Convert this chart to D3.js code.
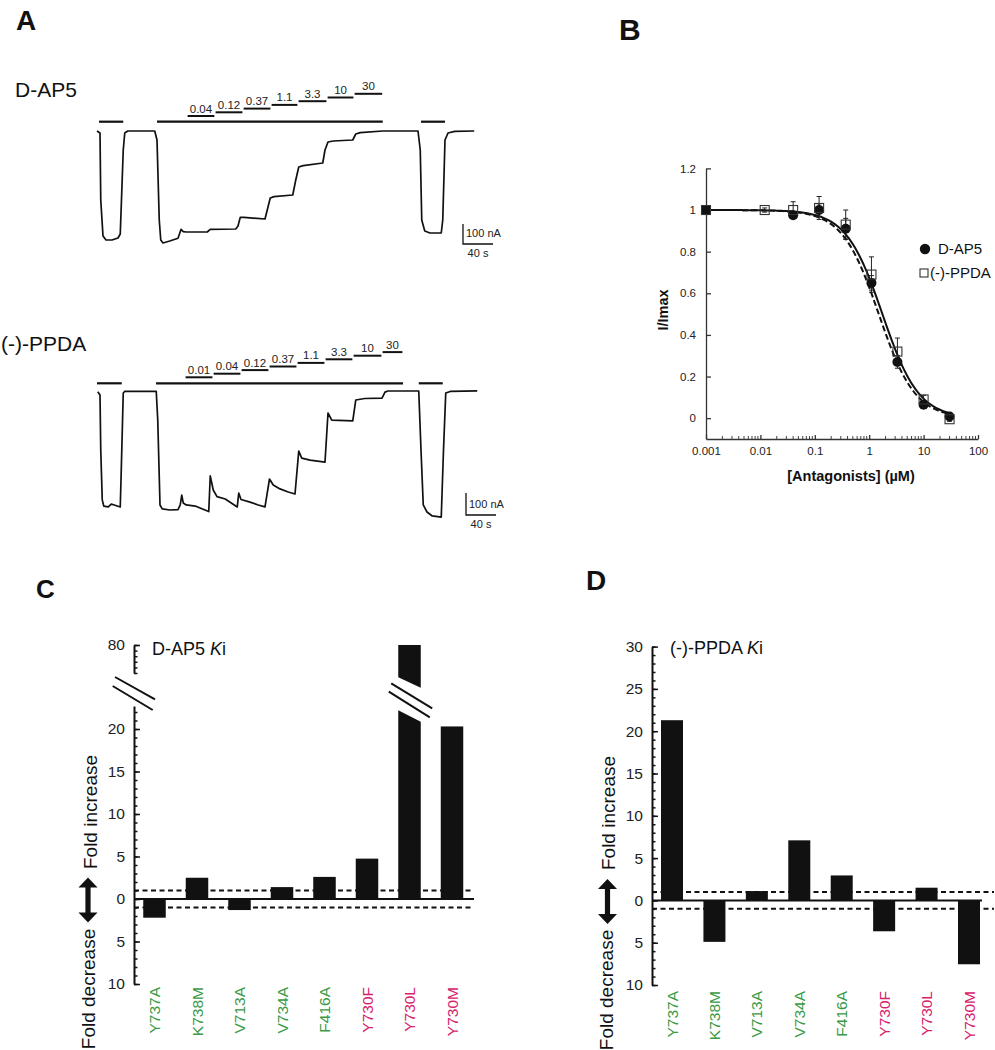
<!DOCTYPE html>
<html><head><meta charset="utf-8">
<script src="https://cdn.jsdelivr.net/npm/d3@7"></script>
<style>body{margin:0;background:#fff}svg{display:block}</style>
</head><body>
<script>
// ---------------- DATA ----------------
// Panel A: current traces (time in s, current in nA)
const traceTimeAP5 = [0,4,5,8,12,20,28,31,35,37,41,77,80,83,85,88,97,108,112,115,119,147,151,185,188,191,196,224,227,231,236,261,265,269,275,301,304,308,315,341,345,351,381,428,431,433,437,444,459,461,464,468,477,503];
const traceCurAP5  = [0,-10,-345,-525,-545,-545,-535,-515,-95,-10,0,0,-45,-445,-545,-560,-550,-536,-492,-503,-505,-505,-492,-490,-475,-432,-432,-440,-395,-335,-328,-320,-245,-180,-173,-160,-95,-55,-50,-45,-15,-8,0,0,-95,-445,-500,-510,-510,-445,-45,-10,-2,0];
const traceTimePPDA = [1,4,5,7,9,15,19,23,31,32,35,37,79,81,84,87,97,108,111,113,115,119,131,144,149,151,155,160,171,179,187,189,192,204,215,224,230,235,244,255,264,269,273,284,304,308,313,341,345,357,380,384,388,429,432,435,440,447,459,462,465,471,507];
const traceCurPPDA  = [-3,-18,-268,-495,-523,-527,-514,-518,-527,-405,-9,-2,-2,-132,-518,-536,-541,-539,-518,-473,-509,-518,-523,-541,-548,-386,-450,-480,-491,-509,-527,-464,-493,-505,-518,-527,-400,-427,-445,-459,-468,-273,-305,-314,-323,-100,-132,-136,-41,-34,-32,-5,0,0,-268,-518,-550,-568,-573,-268,-9,-2,1];
// agonist application periods, s
const agonistAP5  = [[2.7,35],[80,381],[432,464]];
const agonistPPDA = [[0,33],[78.7,408],[429,461]];
// antagonist concentration steps (µM) and start times (s)
const concLabelsAP5  = ["0.04","0.12","0.37","1.1","3.3","10","30"];
const concStartAP5   = [120,157.3,194.7,232,268,306.7,342.7];
const concEndAP5     = 381;
const concLabelsPPDA = ["0.01","0.04","0.12","0.37","1.1","3.3","10","30"];
const concStartPPDA  = [117.3,154.7,192,229.3,266.7,304,341.3,380];
const concEndPPDA    = 408;

// Panel B: concentration-response
const concB_AP5  = [0.001,0.04,0.12,0.37,1.1,3.3,10,30];
const respB_AP5  = [1.0,0.975,1.0,0.91,0.65,0.27,0.065,0.008];
const errB_AP5   = [0,0.015,0.03,0.05,0.035,0.03,0.01,0.005];
const concB_PPDA = [0.001,0.012,0.04,0.12,0.37,1.1,3.3,10,30];
const respB_PPDA = [1.0,1.0,1.0,1.01,0.93,0.69,0.32,0.09,-0.005];
const errB_PPDA  = [0,0.01,0.04,0.055,0.07,0.085,0.065,0.02,0.01];
// Hill fit parameters
const fitAP5  = {ic50:1.75, n:1.3};
const fitPPDA = {ic50:1.5,  n:1.3};
const xTicksB = [0.001,0.01,0.1,1,10,100];
const xTickLabelsB = ["0.001","0.01","0.1","1","10","100"];
const yTicksB = [0,0.2,0.4,0.6,0.8,1,1.2];

// Panels C, D: fold change of Ki (negative = fold decrease)
const mutants   = ["Y737A","K738M","V713A","V734A","F416A","Y730F","Y730L","Y730M"];
const mutantSet = ["g","g","g","g","g","m","m","m"];
const foldAP5   = [-2.2, 2.5, -1.3, 1.4, 2.6, 4.75, 80, 20.3];
const foldPPDA  = [21.3, -4.9, 1.1, 7.1, 2.95, -3.65, 1.5, -7.55];

// ---------------- DRAW ----------------
const FONT = "'Liberation Sans', Arial, Helvetica, sans-serif";
const INK = "#111";
const GREEN = "#3a9a46", MAGENTA = "#d6226c";
const W = 995, H = 1050;
const svg = d3.select("body").append("svg").attr("width", W).attr("height", H)
  .style("font-family", FONT);
svg.append("rect").attr("width", W).attr("height", H).attr("fill", "#fff");

function label(x, y, t, size, opts = {}) {
  return svg.append("text").attr("x", x).attr("y", y).text(t)
    .attr("font-size", size).attr("fill", opts.fill || INK)
    .attr("font-weight", opts.bold ? "bold" : "normal")
    .attr("text-anchor", opts.anchor || "start");
}
label(16, 30, "A", 28, {bold: true});
label(619, 40, "B", 30, {bold: true});
label(36, 598, "C", 26, {bold: true});
label(586, 590, "D", 28, {bold: true});

// ---- Panel A ----
function drawTrace(p) {
  const g = svg.append("g");
  const x = d3.scaleLinear().domain([0, 40]).range([97, 127]);
  const y = d3.scaleLinear().domain([0, -100]).range([p.y0, p.y0 + p.px100]);
  const pts = p.t.map((t, i) => [t, p.cur[i]]);
  g.append("path").datum(pts)
    .attr("d", d3.line().x(d => x(d[0])).y(d => y(d[1])))
    .attr("fill", "none").attr("stroke", INK).attr("stroke-width", 1.7)
    .attr("stroke-linejoin", "round");
  p.agonist.forEach(b => {
    g.append("line").attr("x1", x(b[0])).attr("x2", x(b[1]))
      .attr("y1", p.barY).attr("y2", p.barY)
      .attr("stroke", INK).attr("stroke-width", 2.2);
  });
  p.starts.forEach((s, k) => {
    const e = k < p.starts.length - 1 ? p.starts[k + 1] : p.end;
    const yy = p.concY0 - k * p.concStep;
    g.append("line").attr("x1", x(s) + 0.6).attr("x2", x(e) - 0.6)
      .attr("y1", yy).attr("y2", yy).attr("stroke", INK).attr("stroke-width", 2);
    g.append("text").attr("x", (x(s) + x(e)) / 2).attr("y", yy - 3.5)
      .attr("text-anchor", "middle").attr("font-size", 11.5).attr("fill", "#222")
      .text(p.labels[k]);
  });
  // scale bar: 100 nA, 40 s
  const sx = x(p.sbT), sy = y(p.sbI);
  g.append("path")
    .attr("d", `M${sx},${y(p.sbI + 100)}V${sy}H${x(p.sbT + 40)}`)
    .attr("fill", "none").attr("stroke", INK).attr("stroke-width", 1.3);
  g.append("text").attr("x", sx + 3).attr("y", sy - 7).attr("font-size", 11)
    .attr("fill", "#222").text("100 nA");
  g.append("text").attr("x", (sx + x(p.sbT + 40)) / 2).attr("y", sy + 13)
    .attr("text-anchor", "middle").attr("font-size", 11).attr("fill", "#222").text("40 s");
}
label(15, 97, "D-AP5", 21);
label(1, 351, "(-)-PPDA", 21);
drawTrace({t: traceTimeAP5, cur: traceCurAP5, y0: 131, px100: 20, agonist: agonistAP5,
  starts: concStartAP5, end: concEndAP5, labels: concLabelsAP5, barY: 121.7,
  concY0: 116, concStep: 3.7, sbT: 488, sbI: -565});
drawTrace({t: traceTimePPDA, cur: traceCurPPDA, y0: 391, px100: 22, agonist: agonistPPDA,
  starts: concStartPPDA, end: concEndPPDA, labels: concLabelsPPDA, barY: 383.3,
  concY0: 377.3, concStep: 3.6, sbT: 492, sbI: -563.6});

// ---- Panel B ----
(function () {
  const x = d3.scaleLog().domain([0.001, 100]).range([706, 978]);
  const y = d3.scaleLinear().domain([-0.1, 1.2]).range([439, 168.4]);
  const g = svg.append("g");
  const ya = g.append("g").attr("transform", "translate(706,0)")
    .call(d3.axisLeft(y).tickValues(yTicksB).tickSizeInner(-5).tickSizeOuter(0)
      .tickPadding(10).tickFormat(d => String(d)));
  const xa = g.append("g").attr("transform", "translate(0,439)")
    .call(d3.axisBottom(x).tickValues(xTicksB).tickSizeInner(-4).tickSizeOuter(0)
      .tickPadding(8).tickFormat((d, i) => xTickLabelsB[i]));
  [ya, xa].forEach(a => {
    a.selectAll("path,line").attr("stroke", "#333").attr("stroke-width", 1.3);
    a.selectAll("text").attr("font-size", 11.5).attr("fill", "#222").style("font-family", FONT);
  });
  xTicksB.slice(0, -1).forEach(dec => {
    d3.range(2, 10).forEach(k => {
      const xx = x(dec * k);
      g.append("line").attr("x1", xx).attr("x2", xx).attr("y1", 439).attr("y2", 436)
        .attr("stroke", "#444").attr("stroke-width", 1);
    });
  });
  // fits
  const hill = f => c => 1 / (1 + Math.pow(c / f.ic50, f.n));
  const cs = d3.range(-3, Math.log10(30) + 0.001, 0.02).map(e => Math.pow(10, e));
  const ln = fn => d3.line().x(c => x(c)).y(c => y(fn(c)))(cs);
  g.append("path").attr("d", ln(hill(fitPPDA))).attr("fill", "none")
    .attr("stroke", INK).attr("stroke-width", 2).attr("stroke-dasharray", "6,3");
  g.append("path").attr("d", ln(hill(fitAP5))).attr("fill", "none")
    .attr("stroke", INK).attr("stroke-width", 2);
  // error bars
  function errs(cx, vy, ee) {
    cx.forEach((c, i) => {
      if (!ee[i]) return;
      const xx = x(c), y1 = y(vy[i] + ee[i]), y2 = y(vy[i] - ee[i]);
      g.append("path").attr("d", `M${xx},${y1}V${y2}M${xx - 2.5},${y1}H${xx + 2.5}M${xx - 2.5},${y2}H${xx + 2.5}`)
        .attr("stroke", "#222").attr("stroke-width", 1).attr("fill", "none");
    });
  }
  errs(concB_AP5, respB_AP5, errB_AP5);
  errs(concB_PPDA, respB_PPDA, errB_PPDA);
  concB_AP5.forEach((c, i) => g.append("circle").attr("cx", x(c)).attr("cy", y(respB_AP5[i]))
    .attr("r", 5).attr("fill", INK));
  concB_PPDA.forEach((c, i) => g.append("rect").attr("x", x(c) - 4.5).attr("y", y(respB_PPDA[i]) - 4.5)
    .attr("width", 9).attr("height", 9).attr("fill", i === 0 ? INK : "none")
    .attr("stroke", "#333").attr("stroke-width", 1.1));
  // labels
  svg.append("text").attr("transform", "translate(668,310) rotate(-90)").attr("text-anchor", "middle")
    .attr("font-size", 14.5).attr("font-weight", "bold").attr("fill", INK).text("I/Imax");
  label(851, 481, "[Antagonists] (µM)", 14.5, {bold: true, anchor: "middle"});
  // legend
  g.append("circle").attr("cx", 925).attr("cy", 249).attr("r", 5.2).attr("fill", INK);
  label(938, 254, "D-AP5", 15);
  g.append("rect").attr("x", 920).attr("y", 269).attr("width", 8).attr("height", 8)
    .attr("fill", "none").attr("stroke", "#333").attr("stroke-width", 1.1);
  label(930, 278, "(-)-PPDA", 15);
})();

// ---- Panels C & D ----
function drawFold(cfg) {
  const g = svg.append("g");
  const ax = cfg.axisX;
  const y = d3.scaleLinear().domain([-10, cfg.lowerTop])
    .range([cfg.yBottom, cfg.yBottom - (cfg.lowerTop + 10) * cfg.ppu]);
  const x = d3.scalePoint().domain(mutants).range(cfg.xRange);
  const bw = cfg.bw;
  const styleAxis = a => {
    a.selectAll("path,line").attr("stroke", INK).attr("stroke-width", 2);
    a.selectAll("text").attr("font-size", 15.5).attr("fill", "#222").style("font-family", FONT);
  };
  const minor = d3.range(-10, Math.floor(cfg.lowerTop) + 0.5, 1);
  const major = minor.filter(v => v % 5 === 0);
  styleAxis(g.append("g").attr("transform", `translate(${ax},0)`)
    .call(d3.axisLeft(y).tickValues(minor).tickSizeInner(-3.5).tickSizeOuter(0).tickFormat("")));
  const ma = g.append("g").attr("transform", `translate(${ax},0)`)
    .call(d3.axisLeft(y).tickValues(major).tickSizeInner(-6).tickSizeOuter(0)
      .tickPadding(9).tickFormat(d => Math.abs(d)));
  styleAxis(ma); ma.select(".domain").remove();
  ma.selectAll("line").attr("stroke-width", 1.6);
  g.selectAll(".tick line").attr("stroke-width", 1.5);

  let yU = null;
  if (cfg.upper) {
    yU = d3.scaleLinear().domain(cfg.upper.domain).range(cfg.upper.range);
    const ua = g.append("g").attr("transform", `translate(${ax},0)`)
      .call(d3.axisLeft(yU).tickValues(d3.range(cfg.upper.domain[0], cfg.upper.domain[1] + 1, 5))
        .tickSizeInner(-3.5).tickSizeOuter(0).tickFormat(""));
    styleAxis(ua); ua.selectAll(".tick line").attr("stroke-width", 1.5);
    const top = cfg.upper.domain[1];
    const ta = g.append("g").attr("transform", `translate(${ax},0)`)
      .call(d3.axisLeft(yU).tickValues([top]).tickSizeInner(-6).tickSizeOuter(0).tickPadding(9));
    styleAxis(ta); ta.select(".domain").remove(); ta.selectAll("line").attr("stroke-width", 1.6);
    // axis break marks
    const b0 = yU(cfg.upper.domain[0]);
    [[-19, 4, 21, 26.3], [-21.3, 13, 18.7, 37]].forEach(s => {
      g.append("line").attr("x1", ax + s[0]).attr("y1", b0 + s[1]).attr("x2", ax + s[2]).attr("y2", b0 + s[3])
        .attr("stroke", INK).attr("stroke-width", 2);
    });
  }

  // bars
  cfg.values.forEach((v, i) => {
    const cx = x(mutants[i]);
    if (v > cfg.lowerTop && yU) {
      const yt = yU(v), yb = y(0);
      g.append("rect").attr("x", cx - bw / 2).attr("y", yt).attr("width", bw).attr("height", yb - yt).attr("fill", INK);
      const u0 = yU(cfg.upper.domain[0]), l0 = y(cfg.lowerTop);
      g.append("path").attr("d", `M${cx - bw / 2 - 0.5},${u0 + 4}L${cx + bw / 2 + 0.5},${u0 + 15}L${cx + bw / 2 + 0.5},${l0 + 16}L${cx - bw / 2 - 0.5},${l0 + 4}Z`)
        .attr("fill", "#fff");
      [[-18.3, 10.3, 22.7, 35.3], [-20.7, 18.7, 20.3, 44.3]].forEach(s => {
        g.append("line").attr("x1", cx + s[0]).attr("y1", u0 + s[1]).attr("x2", cx + s[2]).attr("y2", u0 + s[3])
          .attr("stroke", INK).attr("stroke-width", 2);
      });
    } else {
      g.append("rect").attr("x", cx - bw / 2).attr("y", y(Math.max(v, 0)))
        .attr("width", bw).attr("height", Math.abs(y(v) - y(0))).attr("fill", INK);
    }
  });
  // zero and ±1 lines
  g.append("line").attr("x1", ax).attr("x2", cfg.zeroEnd).attr("y1", y(0)).attr("y2", y(0))
    .attr("stroke", INK).attr("stroke-width", 2);
  [1, -1].forEach(v => g.append("line").attr("x1", ax).attr("x2", cfg.dashEnd)
    .attr("y1", y(v)).attr("y2", y(v)).attr("stroke", INK).attr("stroke-width", 2)
    .attr("stroke-dasharray", "5,3.5"));
  // category labels
  mutants.forEach((m, i) => {
    g.append("text").attr("transform", `translate(${x(m)},${cfg.labelTop}) rotate(-90)`)
      .attr("dy", "0.36em").attr("text-anchor", "end").attr("font-size", 15.5)
      .attr("fill", mutantSet[i] === "g" ? GREEN : MAGENTA).text(m);
  });
  // title
  const t = g.append("text").attr("x", cfg.titleX).attr("y", cfg.titleY).attr("font-size", 18).attr("fill", INK);
  t.append("tspan").text(cfg.title + " ");
  t.append("tspan").attr("font-style", "italic").text("K");
  t.append("tspan").text("i");
  // fold labels
  g.append("text").attr("transform", `translate(${cfg.incX},${cfg.incY}) rotate(-90)`)
    .attr("text-anchor", "middle").attr("font-size", 19).attr("fill", INK).text("Fold increase");
  g.append("text").attr("transform", `translate(${cfg.decX},${cfg.decY}) rotate(-90)`)
    .attr("text-anchor", "middle").attr("font-size", 19).attr("fill", INK).text("Fold decrease");
  // double arrow
  const c = cfg.arrowX, yc = y(0) + 1, hl = 22.5, hh = 10, hw = 9.5, sw = 2.6;
  g.append("path").attr("d",
    `M${c},${yc - hl}L${c + hw},${yc - hl + hh}L${c + sw},${yc - hl + hh}L${c + sw},${yc + hl - hh}L${c + hw},${yc + hl - hh}` +
    `L${c},${yc + hl}L${c - hw},${yc + hl - hh}L${c - sw},${yc + hl - hh}L${c - sw},${yc - hl + hh}L${c - hw},${yc - hl + hh}Z`)
    .attr("fill", INK);
}

drawFold({values: foldAP5, axisX: 134, yBottom: 984, ppu: 8.5, lowerTop: 22.7,
  upper: {domain: [55, 80], range: [673, 645]},
  xRange: [154.5, 452], bw: 22.5, zeroEnd: 474, dashEnd: 474, labelTop: 987,
  title: "D-AP5", titleX: 152, titleY: 655, incX: 97, incY: 812, decX: 95, decY: 989, arrowX: 88});
drawFold({values: foldPPDA, axisX: 652, yBottom: 985, ppu: 8.46, lowerTop: 30,
  xRange: [672, 969], bw: 22, zeroEnd: 982, dashEnd: 994, labelTop: 991,
  title: "(-)-PPDA", titleX: 670, titleY: 654, incX: 615, incY: 813, decX: 613, decY: 990, arrowX: 607.5});
</script>
</body></html>
